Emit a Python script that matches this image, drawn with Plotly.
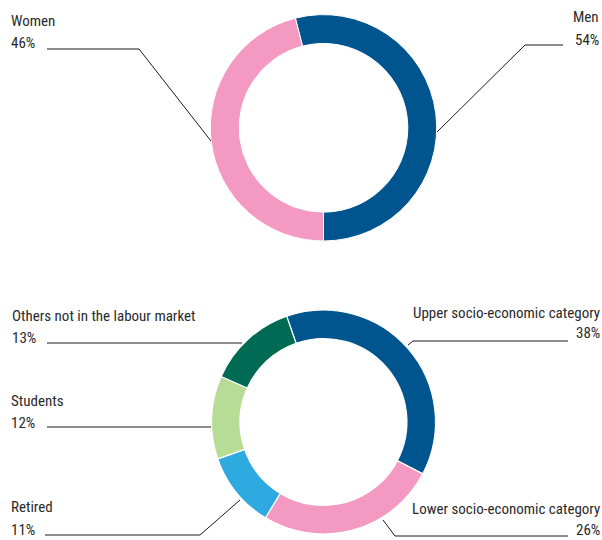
import math
import plotly.graph_objects as go

W, H = 602, 540

# ---- data ----
gender_labels = ["Men", "Women"]
gender_values = [54, 46]
gender_colors = ["#00558F", "#F49AC2"]

group_labels = ["Upper socio-economic category", "Lower socio-economic category",
                "Retired", "Students", "Others not in the labour market"]
group_values = [38, 26, 11, 12, 13]
group_colors = ["#00558F", "#F49AC2", "#2EAAE1", "#B7DC95", "#006B54"]

FONT = "Roboto Condensed, sans-serif"
FSIZE = 15
TXT = "#2a2a2a"


def px(x):
    return x / W


def py(y):
    return 1 - y / H


fig = go.Figure()

# pie geometry (pixels)
top_c, top_r = (323.5, 127.8), 113.2
bot_c, bot_r = (323.5, 422.0), 112.0


def dom(c, r):
    return dict(x=[px(c[0] - r), px(c[0] + r)], y=[py(c[1] + r), py(c[1] - r)])


fig.add_trace(go.Pie(labels=gender_labels, values=gender_values, hole=0.745,
                     sort=False, direction="clockwise", rotation=-14.4,
                     marker=dict(colors=gender_colors, line=dict(color="white", width=1)),
                     textinfo="none", hoverinfo="label+percent", domain=dom(top_c, top_r)))
fig.add_trace(go.Pie(labels=group_labels, values=group_values, hole=0.745,
                     sort=False, direction="clockwise", rotation=-19.2,
                     marker=dict(colors=group_colors, line=dict(color="white", width=1.2)),
                     textinfo="none", hoverinfo="label+percent", domain=dom(bot_c, bot_r)))

annotations = []
shapes = []


def label(name, pct, x, y1, y2, align):
    anchor = "left" if align == "left" else "right"
    for t, y in ((name, y1), (pct, y2)):
        annotations.append(dict(text=t, x=px(x), y=py(y), xref="paper", yref="paper",
                                xanchor=anchor, yanchor="middle", showarrow=False,
                                font=dict(family=FONT, size=FSIZE, color=TXT)))


def leader(points):
    path = "M " + " L ".join(f"{px(x)},{py(y)}" for x, y in points)
    shapes.append(dict(type="path", path=path, xref="paper", yref="paper",
                       line=dict(color="#1a1a1a", width=1)))


def pct(v):
    return f"{v}%"


# top chart labels
label(gender_labels[1], pct(gender_values[1]), 9, 21, 43, "left")
leader([(47, 49), (139, 49), (211, 141)])
label(gender_labels[0], pct(gender_values[0]), 601, 17, 40, "right")
leader([(563, 45), (525, 45), (437, 132)])

# bottom chart labels
label(group_labels[4], pct(group_values[4]), 10, 316, 338, "left")
leader([(47, 343), (242, 343)])
label(group_labels[3], pct(group_values[3]), 9, 401, 423, "left")
leader([(47, 427), (211, 427)])
label(group_labels[2], pct(group_values[2]), 9, 507, 530, "left")
leader([(45, 535), (200, 535), (240, 500)])
label(group_labels[0], pct(group_values[0]), 602, 313, 333, "right")
leader([(568, 341), (413, 341), (408, 345)])
label(group_labels[1], pct(group_values[1]), 602, 509, 530, "right")
leader([(568, 536), (395, 536), (383, 520)])

fig.update_layout(width=W, height=H, margin=dict(l=0, r=0, t=0, b=0),
                  paper_bgcolor="white", plot_bgcolor="white", showlegend=False,
                  annotations=annotations, shapes=shapes)

fig.write_html("out.html")
